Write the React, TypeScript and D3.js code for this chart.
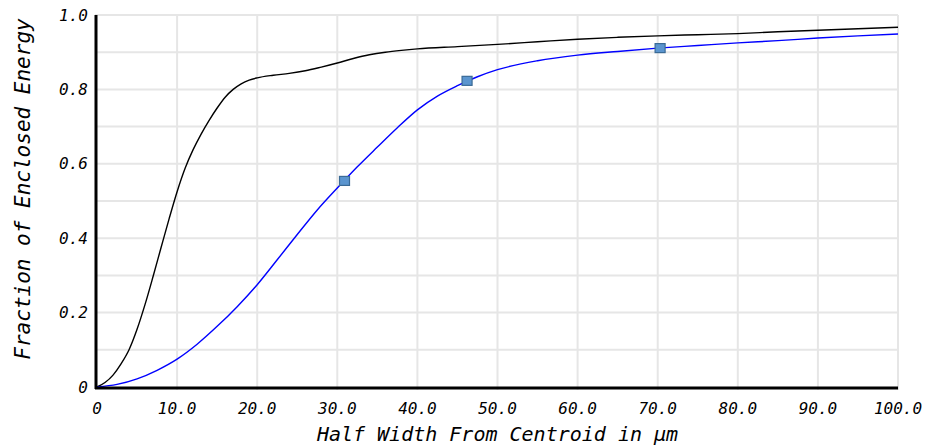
import React from "react";
import * as d3 from "d3";

const blackX = [0, 1, 2, 3, 4, 5, 6, 7, 8, 9, 10, 11, 12, 13, 14, 15, 16, 17, 18, 19, 20, 22, 24, 26, 28, 30, 32, 34, 36, 38, 40, 45, 50, 55, 60, 65, 70, 75, 80, 85, 90, 95, 100];
const blackY = [0, 0.012, 0.032, 0.062, 0.1, 0.155, 0.222, 0.297, 0.375, 0.452, 0.525, 0.588, 0.638, 0.68, 0.717, 0.75, 0.779, 0.8, 0.815, 0.825, 0.831, 0.838, 0.843, 0.85, 0.86, 0.871, 0.883, 0.893, 0.9, 0.905, 0.909, 0.915, 0.921, 0.928, 0.935, 0.94, 0.944, 0.947, 0.95, 0.955, 0.959, 0.963, 0.967];

const blueX = [0, 2.5, 5, 7.5, 10, 12.5, 15, 17.5, 20, 22.5, 25, 27.5, 30, 32.5, 35, 37.5, 40, 42.5, 45, 47.5, 50, 55, 60, 65, 70, 75, 80, 85, 90, 95, 100];
const blueY = [0, 0.007, 0.022, 0.045, 0.075, 0.115, 0.163, 0.216, 0.275, 0.342, 0.41, 0.476, 0.535, 0.592, 0.645, 0.697, 0.745, 0.782, 0.81, 0.834, 0.853, 0.877, 0.892, 0.902, 0.911, 0.918, 0.925, 0.931, 0.938, 0.944, 0.949];

const markerX = [30.9, 46.2, 70.3];
const markerY = [0.554, 0.823, 0.911];

const xTicks = [0, 10, 20, 30, 40, 50, 60, 70, 80, 90, 100];
const xTickLabels = ["0", "10.0", "20.0", "30.0", "40.0", "50.0", "60.0", "70.0", "80.0", "90.0", "100.0"];
const yTicks = [0, 0.2, 0.4, 0.6, 0.8, 1.0];
const yTickLabels = ["0", "0.2", "0.4", "0.6", "0.8", "1.0"];
const yGrid = [0.1, 0.2, 0.3, 0.4, 0.5, 0.6, 0.7, 0.8, 0.9, 1.0];

const xTitle = "Half Width From Centroid in µm";
const yTitle = "Fraction of Enclosed Energy";

export default function App() {
  const W = 930, H = 446;
  const left = 97, right = 898, top = 15, bottom = 387;
  const x = d3.scaleLinear().domain([0, 100]).range([left, right]);
  const y = d3.scaleLinear().domain([0, 1]).range([bottom, top]);
  const font = "'DejaVu Sans Mono', monospace";

  const line = d3
    .line<[number, number]>()
    .x((d) => x(d[0]))
    .y((d) => y(d[1]))
    .curve(d3.curveMonotoneX);

  const blackPts = blackX.map((v, i) => [v, blackY[i]] as [number, number]);
  const bluePts = blueX.map((v, i) => [v, blueY[i]] as [number, number]);

  return (
    <svg
      width={W}
      height={H}
      style={{ position: "absolute", left: 0, top: 0, background: "#fff" }}
    >
      <g>
        {yGrid.map((g) => (
          <line key={"hg" + g} x1={left - 2} x2={right} y1={y(g)} y2={y(g)} stroke="#e6e6e6" strokeWidth={2} />
        ))}
        {xTicks.filter((t) => t > 0).map((t) => (
          <line key={"vg" + t} x1={x(t)} x2={x(t)} y1={top} y2={bottom + 3} stroke="#e6e6e6" strokeWidth={2} />
        ))}
      </g>
      <path d={line(blackPts) || ""} fill="none" stroke="#000" strokeWidth={1.4} />
      <path d={line(bluePts) || ""} fill="none" stroke="#0000ff" strokeWidth={1.4} />
      <line x1={left - 1} x2={left - 1} y1={top} y2={bottom + 2} stroke="#000" strokeWidth={3} />
      <line x1={left - 2} x2={right} y1={bottom + 1} y2={bottom + 1} stroke="#000" strokeWidth={3} />
      {markerX.map((mx, i) => (
        <rect
          key={"m" + i}
          x={x(mx) - 5}
          y={y(markerY[i]) - 4.5}
          width={10}
          height={9}
          fill="#5b95cf"
          stroke="#3a6a96"
          strokeWidth={1.2}
        />
      ))}
      {xTicks.map((t, i) => (
        <text
          key={"xt" + t}
          x={x(t)}
          y={414}
          textAnchor="middle"
          fontFamily={font}
          fontStyle="italic"
          fontSize={16}
          fill="#000"
        >
          {xTickLabels[i]}
        </text>
      ))}
      {yTicks.map((t, i) => (
        <text
          key={"yt" + t}
          x={88}
          y={y(t)}
          dy="0.35em"
          textAnchor="end"
          fontFamily={font}
          fontStyle="italic"
          fontSize={16}
          fill="#000"
        >
          {yTickLabels[i]}
        </text>
      ))}
      <text
        x={(left + right) / 2}
        y={441}
        textAnchor="middle"
        fontFamily={font}
        fontStyle="italic"
        fontSize={20}
        fill="#000"
      >
        {xTitle}
      </text>
      <text
        transform={`translate(23, 189) rotate(-90)`}
        textAnchor="middle"
        dy="0.35em"
        fontFamily={font}
        fontStyle="italic"
        fontSize={21}
        fill="#000"
      >
        {yTitle}
      </text>
    </svg>
  );
}
